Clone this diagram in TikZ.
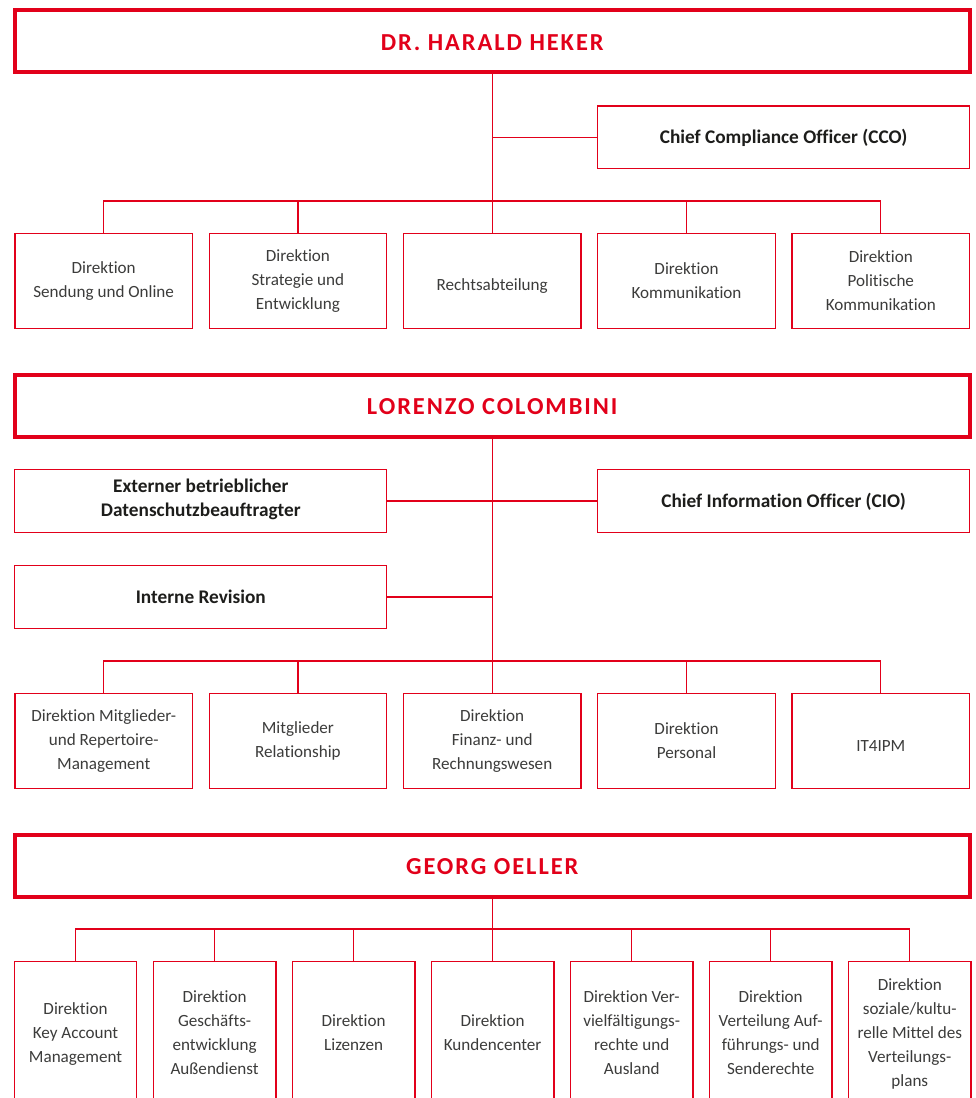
\documentclass[tikz,border=0pt]{standalone}
\usepackage{fontspec}
\setmainfont[Ligatures=NoCommon]{Carlito}
\newfontfamily\titlefont[LetterSpace=8]{Carlito}
\definecolor{gred}{HTML}{E2001A}
\definecolor{gtext}{HTML}{3C3C3B}
\definecolor{gdark}{HTML}{1D1D1B}
\newcommand\topstrut{\rule[-1.7pt]{0pt}{24pt}}
\newcommand\botstrut{\rule[-1.7pt]{0pt}{10pt}}
\newcommand\topstrutb{\rule[-5.7pt]{0pt}{24pt}}
\newcommand\botstrutb{\rule[-5.7pt]{0pt}{10pt}}
\tikzset{
  headbox/.style={draw=gred, line width=4pt, minimum width=955pt, minimum height=62pt, inner sep=0pt,
    font=\titlefont\bfseries\fontsize{24.4}{24}\selectfont, text=gred,
    text height=18.7pt, text depth=0pt},
  staffbox/.style={draw=gred, line width=1.3pt, minimum width=372pt, minimum height=62.5pt, inner sep=0pt,
    align=center, font=\bfseries\fontsize{19.3}{24}\selectfont, text=gdark,
    execute at begin node=\topstrutb, execute at end node=\botstrutb},
  unitbox/.style={draw=gred, line width=1.3pt, minimum width=177.5pt, minimum height=95pt, inner sep=0pt,
    align=center, font=\fontsize{17.1}{24}\selectfont, text=gtext,
    execute at begin node=\topstrut, execute at end node=\botstrut},
  narrowbox/.style={draw=gred, line width=1.3pt, minimum width=122.5pt, minimum height=144pt, inner sep=0pt,
    align=center, font=\fontsize{17.1}{24}\selectfont, text=gtext,
    execute at begin node=\topstrut, execute at end node=\botstrut},
  link/.style={draw=gred, line width=1.3pt}
}
\begin{document}
\begin{tikzpicture}[x=1pt,y=-1pt]
\useasboundingbox (0,0) rectangle (976,1098);
\clip (0,0) rectangle (976,1098);
\fill[white] (0,0) rectangle (976,1098);

% ---------- Section 1 ----------
\node[headbox] (h1) at (492.2,41) {DR. HARALD HEKER};
\node[staffbox] (cco) at (783.6,137.3) {Chief Compliance Officer (CCO)};
\node[unitbox] (a1) at (103.7,281.2) {Direktion\\Sendung und Online};
\node[unitbox] (a2) at (297.9,281.2) {Direktion\\Strategie und\\Entwicklung};
\node[unitbox] (a3) at (492.2,281.2) {Rechtsabteilung};
\node[unitbox] (a4) at (686.5,281.2) {Direktion\\Kommunikation};
\node[unitbox] (a5) at (880.8,281.2) {Direktion\\Politische\\Kommunikation};
\coordinate (busa) at (0,201);
\draw[link] (h1.south) -- (a3.north);
\draw[link] (h1.south |- cco.west) -- (cco.west);
\draw[link] (a1.north) -- (a1.north |- busa) -- (a5.north |- busa) -- (a5.north);
\draw[link] (a2.north) -- (a2.north |- busa);
\draw[link] (a4.north) -- (a4.north |- busa);

% ---------- Section 2 ----------
\node[headbox] (h2) at (492.2,405.5) {LORENZO COLOMBINI};
\node[staffbox] (dsb) at (200.8,501) {Externer betrieblicher\\Datenschutzbeauftragter};
\node[staffbox] (cio) at (783.6,501) {Chief Information Officer (CIO)};
\node[staffbox] (rev) at (200.8,597) {Interne Revision};
\node[unitbox] (b1) at (103.7,741) {Direktion Mitglieder-\\und Repertoire-\\Management};
\node[unitbox] (b2) at (297.9,741) {Mitglieder\\Relationship};
\node[unitbox] (b3) at (492.2,741) {Direktion\\Finanz- und\\Rechnungswesen};
\node[unitbox] (b4) at (686.5,741) {Direktion\\Personal};
\node[unitbox] (b5) at (880.8,741) {IT4IPM};
\coordinate (busb) at (0,661);
\draw[link] (h2.south) -- (b3.north);
\draw[link] (dsb.east) -- (cio.west);
\draw[link] (rev.east) -- (h2.south |- rev.east);
\draw[link] (b1.north) -- (b1.north |- busb) -- (b5.north |- busb) -- (b5.north);
\draw[link] (b2.north) -- (b2.north |- busb);
\draw[link] (b4.north) -- (b4.north |- busb);

% ---------- Section 3 ----------
\node[headbox] (h3) at (492.2,865.5) {GEORG OELLER};
\node[narrowbox] (c1) at (75.5,1033.7) {Direktion\\Key Account\\Management};
\node[narrowbox] (c2) at (214.6,1033.7) {Direktion\\Geschäfts-\\entwicklung\\Außendienst};
\node[narrowbox] (c3) at (353.6,1033.7) {Direktion\\Lizenzen};
\node[narrowbox] (c4) at (492.6,1033.7) {Direktion\\Kundencenter};
\node[narrowbox] (c5) at (631.7,1033.7) {Direktion Ver-\\vielfältigungs-\\rechte und\\Ausland};
\node[narrowbox] (c6) at (770.7,1033.7) {Direktion\\Verteilung Auf-\\führungs- und\\Senderechte};
\node[narrowbox] (c7) at (909.8,1033.7) {Direktion\\soziale/kultu-\\relle Mittel des\\Verteilungs-\\plans};
\coordinate (busc) at (0,929);
\draw[link] (h3.south) -- (h3.south |- c4.north);
\draw[link] (c1.north) -- (c1.north |- busc) -- (c7.north |- busc) -- (c7.north);
\draw[link] (c2.north) -- (c2.north |- busc);
\draw[link] (c3.north) -- (c3.north |- busc);
\draw[link] (c5.north) -- (c5.north |- busc);
\draw[link] (c6.north) -- (c6.north |- busc);
\end{tikzpicture}
\end{document}
